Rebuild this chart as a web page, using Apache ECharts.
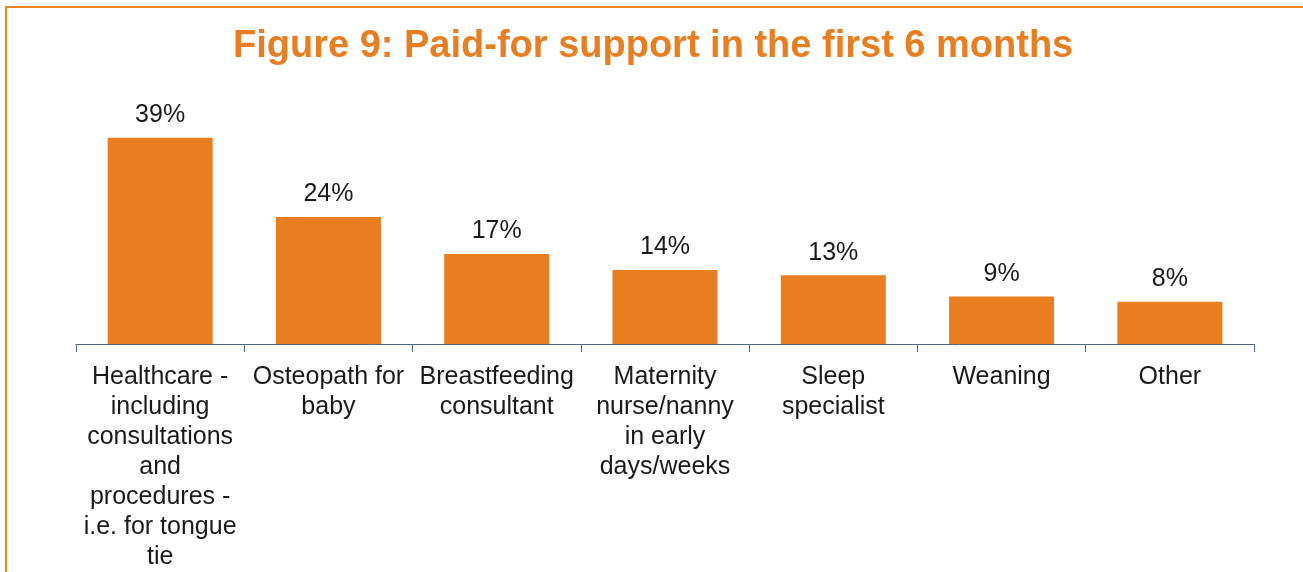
<!DOCTYPE html>
<html>
<head>
<meta charset="utf-8">
<script src="https://cdn.jsdelivr.net/npm/echarts@6/dist/echarts.min.js"></script>
<style>
  html, body { margin: 0; padding: 0; background: #fff; overflow: hidden; }
  .frame {
    position: absolute; left: 5px; top: 6px;
    width: 1300px; height: 620px;
    border-left: 2px solid #F0851F; border-top: 2px solid #F0851F;
  }
  #chart { position: absolute; left: 0; top: 0; width: 1303px; height: 572px; }
</style>
</head>
<body>
<div class="frame"></div>
<div id="chart"></div>
<script>
const categories = [
  'Healthcare -\nincluding\nconsultations\nand\nprocedures -\ni.e. for tongue\ntie',
  'Osteopath for\nbaby',
  'Breastfeeding\nconsultant',
  'Maternity\nnurse/nanny\nin early\ndays/weeks',
  'Sleep\nspecialist',
  'Weaning',
  'Other'
]
const shares = [39, 24, 17, 14, 13, 9, 8]

const chart = echarts.init(document.getElementById('chart'))

const font = "'Liberation Sans', Arial, sans-serif"

const option = {
  animation: false,
  title: {
    text: 'Figure 9: Paid-for support in the first 6 months',
    left: 228,
    top: 23,
    textStyle: {
      fontFamily: font,
      fontSize: 38,
      fontWeight: 'bold',
      color: '#E87E22'
    }
  },
  grid: {
    left: 76,
    right: 49,
    top: 106,
    bottom: 226,
    containLabel: false
  },
  xAxis: {
    type: 'category',
    data: categories,
    axisLine: { show: true, lineStyle: { color: '#4F6796', width: 1 } },
    axisTick: { show: true, length: 8, lineStyle: { color: '#4F6796' } },
    axisLabel: {
      show: true,
      interval: 0,
      margin: 18,
      fontFamily: font,
      fontSize: 25,
      lineHeight: 30,
      color: '#1a1a1a'
    }
  },
  yAxis: {
    type: 'value',
    min: 0,
    max: 45,
    show: false,
    splitLine: { show: false }
  },
  series: [
    {
      type: 'bar',
      data: shares,
      barWidth: 105,
      itemStyle: { color: '#E87E20' },
      label: {
        show: true,
        position: 'top',
        distance: 10,
        formatter: p => p.value + '%',
        fontFamily: font,
        fontSize: 25,
        color: '#1a1a1a'
      }
    }
  ]
}

chart.setOption(option)
</script>
</body>
</html>
